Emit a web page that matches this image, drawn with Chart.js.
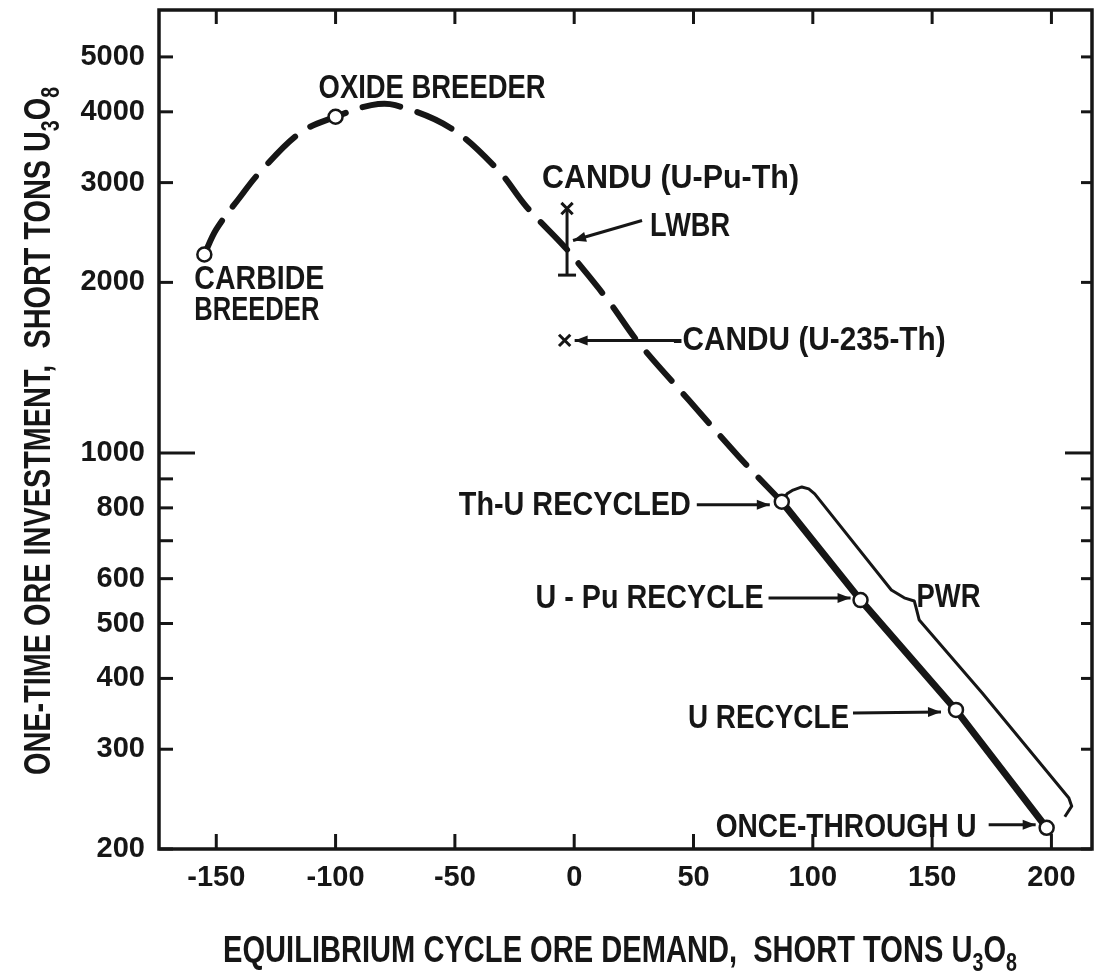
<!DOCTYPE html>
<html>
<head>
<meta charset="utf-8">
<script src="https://cdn.jsdelivr.net/npm/chart.js@4/dist/chart.umd.min.js"></script>
<style>
  html,body{margin:0;padding:0;background:#fff;}
  #wrap{width:1095px;height:973px;position:relative;}
</style>
</head>
<body>
<div id="wrap"><canvas id="chart"></canvas></div>
<script>
/* ── axis ticks ── */
const X_TICKS   = [-150,-100,-50,0,50,100,150,200];
const Y_TICKS   = [200,300,400,500,600,700,800,900,1000,2000,3000,4000,5000];
const Y_LABELED = [200,300,400,500,600,800,1000,2000,3000,4000,5000];

/* ── breeder curve (dashed) ── */
const BREEDER_X = [-155,-150,-140,-132,-115,-100,-85,-75,-52,-32,-20,-4,3,15,27,48,69,87];
const BREEDER_Y = [2240,2480,2830,3120,3670,3920,4110,4110,3750,3160,2720,2310,2130,1840,1565,1240,985,820];

/* ── breeder points (open circles) ── */
const BRD_NAMES = ['CARBIDE BREEDER','OXIDE BREEDER'];
const BRD_X = [-155,-100];
const BRD_Y = [2240,3920];

/* ── PWR points (solid line) ── */
const PWR_NAMES = ['Th-U RECYCLED','U - Pu RECYCLE','U RECYCLE','ONCE-THROUGH U'];
const PWR_X = [87,120,160,198];
const PWR_Y = [820,550,352,218];

/* ── PWR envelope line ── */
const ENV_X = [87,89.2,91.7,95.4,98.3,100.8,132.9,138.3,142.5,143.3,144.6,171,207.3,208.5,205.6];
const ENV_Y = [820,847,860,871,864,847,573,555,548,533,507,377,246,238,228];

/* ── CANDU (x) and LWBR bar ── */
const CANDU_NAMES = ['CANDU (U-Pu-Th)','CANDU (U-235-Th)'];
const CANDU_X = [-3,-4];
const CANDU_Y = [2700,1580];
const LWBR_X = [-3,-3];
const LWBR_Y = [2060,2700];

const INK = '#161616';
const FONT = "'Liberation Sans','Arial',sans-serif";

const pts = (xs, ys) => xs.map((x,i)=>({x, y: ys[i]}));

/* ── text helpers ── */
function fitText(ctx, s, left, base, width, size){
  ctx.save();
  ctx.font = `bold ${size}px ${FONT}`;
  const w = ctx.measureText(s).width;
  ctx.translate(left, base);
  ctx.scale(width / w, 1);
  ctx.textAlign = 'left';
  ctx.textBaseline = 'alphabetic';
  ctx.fillText(s, 0, 0);
  ctx.restore();
}

// runs: [text, isSub]
function runsText(ctx, runs, width, size){
  const sub = Math.round(size*0.68);
  let total = 0;
  runs.forEach(r=>{
    ctx.font = `bold ${r[1]?sub:size}px ${FONT}`;
    total += ctx.measureText(r[0]).width;
  });
  ctx.save();
  ctx.scale(width/total, 1);
  let x = 0;
  runs.forEach(r=>{
    ctx.font = `bold ${r[1]?sub:size}px ${FONT}`;
    ctx.fillText(r[0], x, r[1] ? 9 : 0);
    x += ctx.measureText(r[0]).width;
  });
  ctx.restore();
}

function arrow(ctx, x1, y1, x2, y2){
  ctx.beginPath(); ctx.moveTo(x1,y1); ctx.lineTo(x2,y2); ctx.stroke();
  const a = Math.atan2(y2-y1, x2-x1), L = 13, W = 5;
  ctx.beginPath();
  ctx.moveTo(x2, y2);
  ctx.lineTo(x2 - L*Math.cos(a) + W*Math.sin(a), y2 - L*Math.sin(a) - W*Math.cos(a));
  ctx.lineTo(x2 - L*Math.cos(a) - W*Math.sin(a), y2 - L*Math.sin(a) + W*Math.cos(a));
  ctx.closePath(); ctx.fill();
}

/* ── frame, inward ticks, labels, titles ── */
const figPlugin = {
  id: 'fig',
  afterDraw(chart){
    const {ctx, chartArea:a, scales:{x, y}} = chart;
    const P = (xv, yv) => ({x: x.getPixelForValue(xv), y: y.getPixelForValue(yv)});
    const seg = (x1,y1,x2,y2) => { ctx.beginPath(); ctx.moveTo(x1,y1); ctx.lineTo(x2,y2); ctx.stroke(); };

    ctx.save();
    ctx.strokeStyle = INK; ctx.fillStyle = INK;
    ctx.lineWidth = 3.5;
    ctx.strokeRect(a.left, a.top, a.right-a.left, a.bottom-a.top);

    ctx.lineWidth = 3;
    X_TICKS.forEach(v=>{
      const px = x.getPixelForValue(v);
      seg(px, a.bottom, px, a.bottom-15);
      seg(px, a.top, px, a.top+14);
    });
    Y_TICKS.forEach(v=>{
      const py = y.getPixelForValue(v);
      seg(a.left, py, a.left + (v===1000?36:14), py);
      seg(a.right, py, a.right - (v===1000?27:11), py);
    });

    /* annotations */
    const carb = P(BRD_X[0], BRD_Y[0]), oxi = P(BRD_X[1], BRD_Y[1]);
    const cpu = P(CANDU_X[0], CANDU_Y[0]), c235 = P(CANDU_X[1], CANDU_Y[1]);
    const p = PWR_X.map((v,i)=>P(v, PWR_Y[i]));
    const S = 33;

    fitText(ctx, 'OXIDE BREEDER', oxi.x-17, oxi.y-19, 227, S);
    fitText(ctx, 'CARBIDE', carb.x-10, carb.y+35, 130, S);
    fitText(ctx, 'BREEDER', carb.x-10, carb.y+66, 125, S);
    fitText(ctx, CANDU_NAMES[0], cpu.x-25, cpu.y-21, 257, S);
    fitText(ctx, 'LWBR', cpu.x+83, cpu.y+27, 80, S);
    fitText(ctx, '-' + CANDU_NAMES[1], c235.x+108, c235.y+10, 273, S);
    fitText(ctx, PWR_NAMES[0], p[0].x-323, p[0].y+13, 232, S);
    fitText(ctx, PWR_NAMES[1], p[1].x-325, p[1].y+8, 228, S);
    fitText(ctx, 'PWR', p[1].x+56, p[1].y+7, 64, S);
    fitText(ctx, PWR_NAMES[2], p[2].x-268, p[2].y+18, 161, S);
    fitText(ctx, PWR_NAMES[3], p[3].x-331, p[3].y+9, 261, S);

    ctx.lineWidth = 3;
    arrow(ctx, cpu.x+75, cpu.y+12, cpu.x+6, cpu.y+32);
    arrow(ctx, c235.x+112, c235.y, c235.x+10, c235.y);
    arrow(ctx, p[0].x-85, p[0].y+3, p[0].x-12, p[0].y+3);
    arrow(ctx, p[1].x-92, p[1].y-2, p[1].x-10, p[1].y-2);
    arrow(ctx, p[2].x-103, p[2].y+3, p[2].x-15, p[2].y+2);
    arrow(ctx, p[3].x-58, p[3].y-3, p[3].x-11, p[3].y-3);

    /* axis titles */
    ctx.textAlign = 'left'; ctx.textBaseline = 'alphabetic';
    ctx.save();
    ctx.translate(223, 962);
    runsText(ctx, [['EQUILIBRIUM CYCLE ORE DEMAND,  SHORT TONS U',0],['3',1],['O',0],['8',1]], 794, 37);
    ctx.restore();

    ctx.save();
    ctx.translate(50, 775);
    ctx.rotate(-Math.PI/2);
    runsText(ctx, [['ONE-TIME ORE INVESTMENT,  SHORT TONS U',0],['3',1],['O',0],['8',1]], 688, 37);
    ctx.restore();

    ctx.restore();
  }
};

new Chart(document.getElementById('chart'), {
  type: 'scatter',
  data: {
    datasets: [
      { label: 'breeders', data: pts(BRD_X, BRD_Y), order: 0,
        pointRadius: 7, pointBorderWidth: 2.5, pointBackgroundColor: '#fff', pointBorderColor: INK },
      { label: 'pwr points', data: pts(PWR_X, PWR_Y), order: 0,
        pointRadius: 7, pointBorderWidth: 2.5, pointBackgroundColor: '#fff', pointBorderColor: INK },
      { label: 'candu', data: pts(CANDU_X, CANDU_Y), order: 0,
        pointStyle: 'crossRot', pointRadius: 8, pointBorderWidth: 3, pointBorderColor: INK },
      { label: 'lwbr', data: pts(LWBR_X, LWBR_Y), order: 1, showLine: true,
        borderColor: INK, borderWidth: 3,
        pointStyle: ['line', false], pointRadius: [9, 0], pointBorderWidth: 3, pointBorderColor: INK },
      { label: 'breeder curve', data: pts(BREEDER_X, BREEDER_Y), order: 2, showLine: true,
        borderColor: INK, borderWidth: 6, borderDash: [38, 18], borderCapStyle: 'round',
        tension: 0.35, pointRadius: 0 },
      { label: 'pwr line', data: pts(PWR_X, PWR_Y), order: 2, showLine: true,
        borderColor: INK, borderWidth: 7, tension: 0, pointRadius: 0 },
      { label: 'pwr envelope', data: pts(ENV_X, ENV_Y), order: 3, showLine: true,
        borderColor: INK, borderWidth: 3, tension: 0, pointRadius: 0, borderJoinStyle: 'round' }
    ]
  },
  options: {
    responsive: true,
    maintainAspectRatio: false,
    devicePixelRatio: 1,
    animation: false,
    layout: { padding: { top: 10, right: 3, left: 0, bottom: 0 }, autoPadding: false },
    plugins: { legend: { display: false }, tooltip: { enabled: false } },
    scales: {
      x: {
        type: 'linear', min: -174, max: 217,
        afterBuildTicks: s => { s.ticks = X_TICKS.map(v=>({value: v})); },
        afterFit: s => { s.height = 124; s.paddingLeft = 0; s.paddingRight = 0; },
        grid: { display: false, drawTicks: false },
        border: { display: false },
        ticks: { color: INK, padding: 12, autoSkip: false, maxRotation: 0,
                  font: { family: FONT, size: 29, weight: 'bold' } }
      },
      y: {
        type: 'logarithmic', min: 200, max: 6050,
        afterBuildTicks: s => { s.ticks = Y_TICKS.map(v=>({value: v})); },
        afterFit: s => { s.width = 159; s.paddingTop = 0; s.paddingBottom = 0; },
        grid: { display: false, drawTicks: false },
        border: { display: false },
        ticks: { color: INK, padding: 14, autoSkip: false,
                 callback: v => Y_LABELED.includes(v) ? String(v) : '',
                 font: { family: FONT, size: 29, weight: 'bold' } }
      }
    }
  },
  plugins: [figPlugin]
});
</script>
</body>
</html>
